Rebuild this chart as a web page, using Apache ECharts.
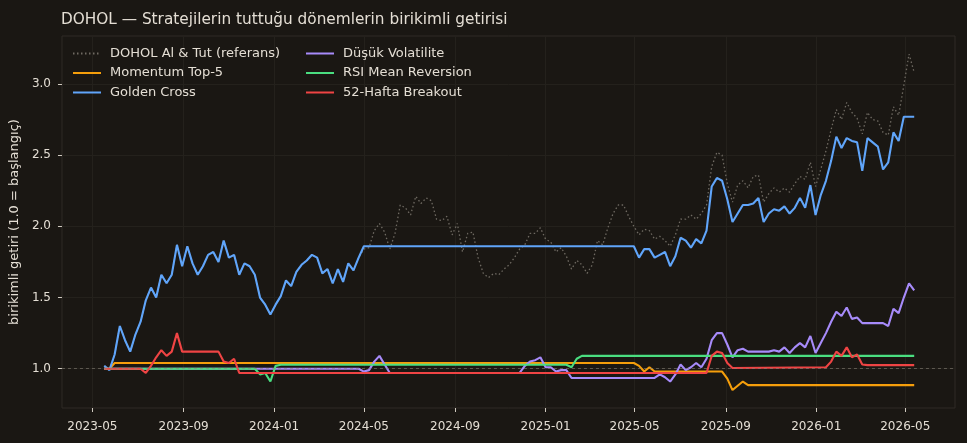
<!DOCTYPE html>
<html><head><meta charset="utf-8">
<script src="https://cdn.jsdelivr.net/npm/echarts@6/dist/echarts.min.js"></script>
<style>html,body{margin:0;padding:0;background:#1a1713}#c{width:967px;height:443px}</style>
</head><body><div id="c"></div>
<script>
// Weekly sample dates (used by the two dense series)
const weeks = [
'2023-05-17','2023-05-24','2023-05-31','2023-06-07','2023-06-14','2023-06-21','2023-06-28','2023-07-05','2023-07-12','2023-07-19',
'2023-07-26','2023-08-02','2023-08-09','2023-08-16','2023-08-23','2023-08-30','2023-09-06','2023-09-13','2023-09-20','2023-09-27',
'2023-10-04','2023-10-11','2023-10-18','2023-10-25','2023-11-01','2023-11-08','2023-11-15','2023-11-22','2023-11-29','2023-12-06',
'2023-12-13','2023-12-20','2023-12-27','2024-01-03','2024-01-10','2024-01-17','2024-01-24','2024-01-31','2024-02-07','2024-02-14',
'2024-02-21','2024-02-28','2024-03-06','2024-03-13','2024-03-20','2024-03-27','2024-04-03','2024-04-10','2024-04-17','2024-04-24',
'2024-05-01','2024-05-08','2024-05-15','2024-05-22','2024-05-29','2024-06-05','2024-06-12','2024-06-19','2024-06-26','2024-07-03',
'2024-07-10','2024-07-17','2024-07-24','2024-07-31','2024-08-07','2024-08-14','2024-08-21','2024-08-28','2024-09-04','2024-09-11',
'2024-09-18','2024-09-25','2024-10-02','2024-10-09','2024-10-16','2024-10-23','2024-10-30','2024-11-06','2024-11-13','2024-11-20',
'2024-11-27','2024-12-04','2024-12-11','2024-12-18','2024-12-25','2025-01-01','2025-01-08','2025-01-15','2025-01-22','2025-01-29',
'2025-02-05','2025-02-12','2025-02-19','2025-02-26','2025-03-05','2025-03-12','2025-03-19','2025-03-26','2025-04-02','2025-04-09',
'2025-04-16','2025-04-23','2025-04-30','2025-05-07','2025-05-14','2025-05-21','2025-05-28','2025-06-04','2025-06-11','2025-06-18',
'2025-06-25','2025-07-02','2025-07-09','2025-07-16','2025-07-23','2025-07-30','2025-08-06','2025-08-13','2025-08-20','2025-08-27',
'2025-09-03','2025-09-10','2025-09-17','2025-09-24','2025-10-01','2025-10-08','2025-10-15','2025-10-22','2025-10-29','2025-11-05',
'2025-11-12','2025-11-19','2025-11-26','2025-12-03','2025-12-10','2025-12-17','2025-12-24','2025-12-31','2026-01-07','2026-01-14',
'2026-01-21','2026-01-28','2026-02-04','2026-02-11','2026-02-18','2026-02-25','2026-03-04','2026-03-11','2026-03-18','2026-03-25',
'2026-04-01','2026-04-08','2026-04-15','2026-04-22','2026-04-29','2026-05-06','2026-05-13'
];

// DOHOL buy & hold (reference), weekly
const refValues = [
1.02,0.99,1.10,1.30,1.20,1.12,1.24,1.33,1.48,1.57,
1.50,1.66,1.60,1.66,1.87,1.72,1.86,1.74,1.66,1.72,
1.80,1.82,1.75,1.90,1.78,1.80,1.66,1.74,1.72,1.66,
1.50,1.45,1.38,1.45,1.51,1.62,1.58,1.68,1.73,1.76,
1.80,1.78,1.67,1.70,1.60,1.70,1.61,1.74,1.69,1.78,
1.84,1.85,1.97,2.02,1.96,1.84,1.95,2.15,2.13,2.08,
2.21,2.16,2.20,2.18,2.05,2.04,2.07,1.94,2.02,1.82,
1.95,1.96,1.78,1.67,1.64,1.67,1.66,1.70,1.73,1.78,
1.84,1.87,1.95,1.95,1.99,1.91,1.89,1.82,1.85,1.79,
1.70,1.76,1.73,1.67,1.73,1.90,1.87,1.99,2.09,2.15,
2.15,2.07,2.00,1.94,1.98,1.97,1.91,1.93,1.90,1.86,
1.94,2.05,2.05,2.08,2.05,2.09,2.15,2.42,2.52,2.50,
2.30,2.17,2.29,2.32,2.27,2.35,2.36,2.17,2.23,2.27,
2.24,2.27,2.24,2.30,2.35,2.33,2.45,2.28,2.40,2.53,
2.68,2.82,2.75,2.87,2.80,2.76,2.65,2.80,2.75,2.74,
2.66,2.64,2.84,2.78,2.99,3.21,3.08
];

// Golden Cross, weekly
const goldenValues = [
1.02,0.99,1.10,1.30,1.20,1.12,1.24,1.33,1.48,1.57,
1.50,1.66,1.60,1.66,1.87,1.72,1.86,1.74,1.66,1.72,
1.80,1.82,1.75,1.90,1.78,1.80,1.66,1.74,1.72,1.66,
1.50,1.45,1.38,1.45,1.51,1.62,1.58,1.68,1.73,1.76,
1.80,1.78,1.67,1.70,1.60,1.70,1.61,1.74,1.69,1.78,
1.86,1.86,1.86,1.86,1.86,1.86,1.86,1.86,1.86,1.86,
1.86,1.86,1.86,1.86,1.86,1.86,1.86,1.86,1.86,1.86,
1.86,1.86,1.86,1.86,1.86,1.86,1.86,1.86,1.86,1.86,
1.86,1.86,1.86,1.86,1.86,1.86,1.86,1.86,1.86,1.86,
1.86,1.86,1.86,1.86,1.86,1.86,1.86,1.86,1.86,1.86,
1.86,1.86,1.86,1.78,1.84,1.84,1.78,1.80,1.82,1.72,
1.79,1.92,1.90,1.85,1.91,1.88,1.97,2.28,2.34,2.32,
2.19,2.03,2.09,2.15,2.15,2.16,2.20,2.03,2.09,2.12,
2.11,2.14,2.09,2.13,2.20,2.13,2.29,2.08,2.22,2.32,
2.46,2.63,2.55,2.62,2.60,2.59,2.39,2.62,2.59,2.56,
2.40,2.45,2.66,2.60,2.77,2.77,2.77
];

// Momentum Top-5 (change points)
const momentumDates = ['2023-05-17','2023-05-24','2023-05-31','2025-04-30','2025-05-07','2025-05-14','2025-05-21','2025-05-28','2025-08-27','2025-09-03','2025-09-10','2025-09-17','2025-09-24','2025-10-01','2026-05-13'];
const momentumValues = [1.00,1.00,1.04,1.04,1.02,0.98,1.01,0.98,0.98,0.93,0.85,0.88,0.91,0.885,0.885];

// Düşük Volatilite (change points)
const lowVolDates = ['2023-05-17','2024-04-24','2024-05-01','2024-05-08','2024-05-15','2024-05-22','2024-05-29','2024-06-05','2024-11-27','2024-12-04',
'2024-12-11','2024-12-18','2024-12-25','2025-01-01','2025-01-08','2025-01-15','2025-01-22','2025-01-29','2025-02-05','2025-05-28',
'2025-06-04','2025-06-11','2025-06-18','2025-06-25','2025-07-02','2025-07-09','2025-07-16','2025-07-23','2025-07-30','2025-08-06',
'2025-08-13','2025-08-20','2025-08-27','2025-09-03','2025-09-10','2025-09-17','2025-09-24','2025-10-01','2025-10-29','2025-11-05',
'2025-11-12','2025-11-19','2025-11-26','2025-12-03','2025-12-10','2025-12-17','2025-12-24','2025-12-31','2026-01-07','2026-01-14',
'2026-01-21','2026-01-28','2026-02-04','2026-02-11','2026-02-18','2026-02-25','2026-03-04','2026-04-01','2026-04-08','2026-04-15',
'2026-04-22','2026-04-29','2026-05-06','2026-05-13'];
const lowVolValues = [1.00,1.00,0.98,0.99,1.05,1.09,1.03,0.97,0.97,1.02,
1.05,1.06,1.08,1.01,1.01,0.98,0.99,0.99,0.935,0.935,
0.96,0.94,0.91,0.96,1.03,0.99,1.01,1.04,1.01,1.07,
1.20,1.25,1.25,1.17,1.08,1.13,1.14,1.12,1.12,1.13,
1.12,1.15,1.11,1.15,1.18,1.15,1.23,1.11,1.18,1.25,
1.33,1.40,1.37,1.43,1.35,1.36,1.32,1.32,1.30,1.42,
1.39,1.50,1.60,1.55];

// RSI Mean Reversion (change points)
const rsiDates = ['2023-05-17','2023-12-06','2023-12-13','2023-12-20','2023-12-27','2024-01-03','2024-01-10','2025-01-29','2025-02-05','2025-02-12','2025-02-19','2026-05-13'];
const rsiValues = [1.00,1.00,0.96,0.97,0.91,1.02,1.028,1.028,1.01,1.07,1.09,1.09];

// 52-Hafta Breakout (change points)
const breakoutDates = ['2023-05-17','2023-07-05','2023-07-12','2023-07-19','2023-07-26','2023-08-02','2023-08-09','2023-08-16','2023-08-23','2023-08-30',
'2023-10-18','2023-10-25','2023-11-01','2023-11-08','2023-11-15','2025-08-06','2025-08-13','2025-08-20','2025-08-27','2025-09-03',
'2025-09-10','2026-01-14','2026-01-21','2026-01-28','2026-02-04','2026-02-11','2026-02-18','2026-02-25','2026-03-04','2026-03-11','2026-05-13'];
const breakoutValues = [1.00,1.00,0.97,1.02,1.08,1.13,1.09,1.12,1.25,1.12,
1.12,1.05,1.04,1.07,0.97,0.97,1.09,1.12,1.11,1.04,
1.005,1.01,1.05,1.12,1.09,1.15,1.08,1.10,1.03,1.025,1.025];

const xTickDates = ['2023-05-01','2023-09-01','2024-01-01','2024-05-01','2024-09-01','2025-01-01','2025-05-01','2025-09-01','2026-01-01','2026-05-01'];
const yTicks = [1.0,1.5,2.0,2.5,3.0];

const seriesNames = ['DOHOL Al & Tut (referans)','Momentum Top-5','Golden Cross','Düşük Volatilite','RSI Mean Reversion','52-Hafta Breakout'];
const seriesColors = ['#6f6a62','#f59e0b','#60a5fa','#a78bfa','#4ade80','#ef4444'];

const toTs = s => { const p = s.split('-'); return Date.UTC(+p[0], +p[1]-1, +p[2]); };
const pairTs = (d, v) => d.map((x, i) => [toTs(x), v[i]]);
const xTickTs = xTickDates.map(toTs);

const textColor = '#e4ded4';
const font = 'DejaVu Sans';

const chart = echarts.init(document.getElementById('c'), null, {renderer: 'canvas'});
const mk = (idx, d, v, extra) => Object.assign({
  name: seriesNames[idx], type: 'line', data: pairTs(d, v), showSymbol: false, symbol: 'none',
  lineStyle: {color: seriesColors[idx], width: 2.1}, itemStyle: {color: seriesColors[idx], opacity: 0},
  animation: false, silent: true
}, extra || {});

const legendBase = {orient: 'vertical', top: 42, itemWidth: 28, itemHeight: 12, itemGap: 6.5,
  itemStyle: {opacity: 0},
  textStyle: {color: textColor, fontSize: 13, fontFamily: font, padding: [0,0,0,4]}, selectedMode: false};

chart.setOption({
  backgroundColor: '#1a1713',
  animation: false,
  textStyle: {fontFamily: font},
  title: {text: 'DOHOL — Stratejilerin tuttuğu dönemlerin birikimli getirisi', left: 56, top: 8,
    textStyle: {color: textColor, fontSize: 15.3, fontWeight: 'normal', fontFamily: font}},
  legend: [
    Object.assign({data: seriesNames.slice(0,3), left: 67}, legendBase),
    Object.assign({data: seriesNames.slice(3), left: 300}, legendBase)
  ],
  grid: {left: 61, right: 12, top: 36, bottom: 35, containLabel: false, show: true, borderColor: '#2f2b26', borderWidth: 1, backgroundColor: 'transparent'},
  xAxis: {
    type: 'value', min: toTs('2023-03-21'), max: toTs('2026-07-07'),
    axisLine: {show: false},
    axisTick: {show: true, length: 4, lineStyle: {color: '#cfc9bf'}, customValues: xTickTs},
    axisLabel: {color: textColor, fontSize: 12, fontFamily: font, margin: 13, customValues: xTickTs,
      formatter: v => { const d = new Date(v); return d.getUTCFullYear() + '-' + String(d.getUTCMonth()+1).padStart(2,'0'); }},
    splitLine: {show: true, lineStyle: {color: '#24211c', width: 1}}
  },
  yAxis: {
    type: 'value', min: 0.724, max: 3.337,
    name: 'birikimli getiri (1.0 = başlangıç)', nameLocation: 'middle', nameGap: 38,
    nameTextStyle: {color: textColor, fontSize: 13, fontFamily: font},
    axisLine: {show: false},
    axisTick: {show: true, length: 4, lineStyle: {color: '#cfc9bf'}, customValues: yTicks},
    axisLabel: {color: textColor, fontSize: 12, fontFamily: font, margin: 11, customValues: yTicks, formatter: v => v.toFixed(1)},
    splitLine: {show: true, lineStyle: {color: '#24211c', width: 1}}
  },
  series: [
    mk(0, weeks, refValues, {lineStyle: {color: seriesColors[0], width: 1.3, type: [1.5, 2.5]}}),
    mk(1, momentumDates, momentumValues),
    mk(2, weeks, goldenValues),
    mk(3, lowVolDates, lowVolValues),
    mk(4, rsiDates, rsiValues),
    mk(5, breakoutDates, breakoutValues, {
      markLine: {silent: true, symbol: 'none', label: {show: false}, animation: false,
        lineStyle: {color: '#8a847a', width: 0.8, type: [3, 3], opacity: 0.7},
        data: [{yAxis: 1.0}]}
    })
  ]
});
</script>
</body></html>
